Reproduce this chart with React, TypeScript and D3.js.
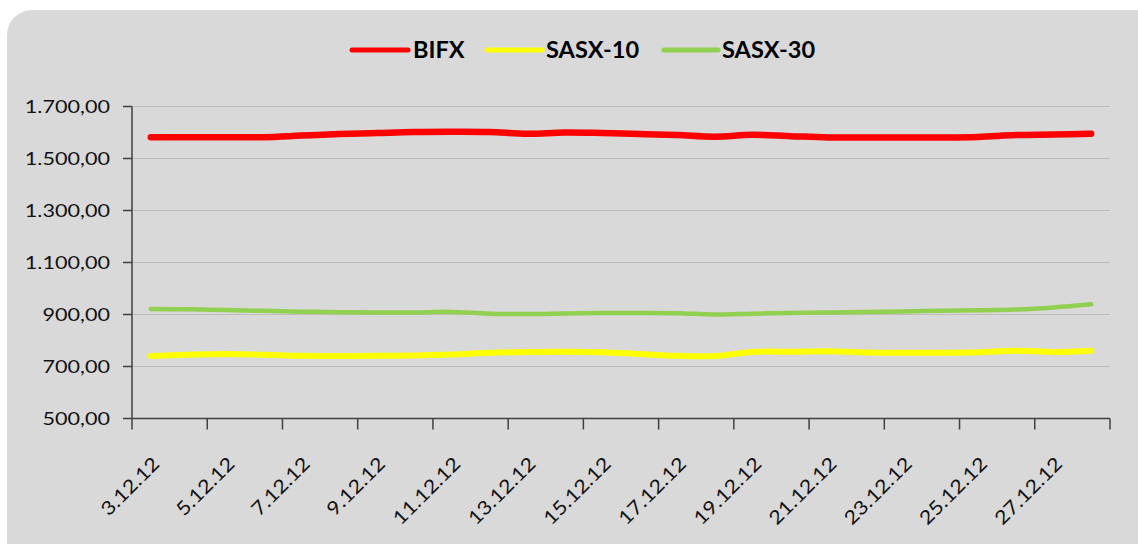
import React from 'react';
import * as d3 from 'd3';

const categories = [
  '3.12.12', '4.12.12', '5.12.12', '6.12.12', '7.12.12', '8.12.12', '9.12.12',
  '10.12.12', '11.12.12', '12.12.12', '13.12.12', '14.12.12', '15.12.12', '16.12.12',
  '17.12.12', '18.12.12', '19.12.12', '20.12.12', '21.12.12', '22.12.12', '23.12.12',
  '24.12.12', '25.12.12', '26.12.12', '27.12.12', '28.12.12',
];

const bifx = [
  1582, 1582, 1582, 1582, 1588, 1594, 1598, 1602, 1603, 1602, 1595, 1600, 1598,
  1594, 1590, 1584, 1591, 1586, 1581, 1581, 1581, 1581, 1583, 1590, 1592, 1595,
];

const sasx10 = [
  740, 745, 748, 745, 741, 740, 741, 742, 746, 753, 756, 757, 755,
  748, 741, 740, 756, 757, 759, 754, 753, 753, 755, 761, 756, 761,
];

const sasx30 = [
  921, 920, 917, 914, 911, 909, 908, 908, 910, 903, 902, 904, 906,
  906, 905, 900, 903, 906, 908, 910, 912, 914, 916, 919, 927, 939,
];

const yTicks = [500, 700, 900, 1100, 1300, 1500, 1700];

const seriesNames = ['BIFX', 'SASX-10', 'SASX-30'];
const seriesColors = ['#FF0000', '#FFFF00', '#92D050'];
const seriesWidths = [6.5, 6, 4.5];

const W = 1138;
const H = 544;
const plotLeft = 132;
const plotRight = 1110;
const plotTop = 106.5;
const plotBottom = 418.5;

const locale = d3.formatLocale({ decimal: ',', thousands: '.', grouping: [3], currency: ['', ''] });
const fmt = locale.format(',.2f');

const FONT = 'Lato, Carlito, Calibri, sans-serif';

export default function App() {
  const x = d3.scaleBand<string>().domain(categories).range([plotLeft, plotRight]).paddingInner(0).paddingOuter(0);
  const y = d3.scaleLinear().domain([500, 1700]).range([plotBottom, plotTop]);
  const bw = x.bandwidth();
  const cx = (c: string) => (x(c) as number) + bw / 2;

  const line = d3
    .line<number>()
    .x((_, i) => cx(categories[i]))
    .y((v) => y(v))
    .curve(d3.curveCatmullRom.alpha(0.5));

  const data = [bifx, sasx10, sasx30];

  const boundaries: number[] = [];
  for (let k = 0; k <= categories.length; k += 2) boundaries.push(plotLeft + k * bw);

  const labelCats = categories.filter((_, i) => i % 2 === 0);

  const legendItems = [
    { x1: 352, x2: 408, tx: 413 },
    { x1: 487, x2: 542, tx: 546 },
    { x1: 664, x2: 718, tx: 722 },
  ];

  return (
    <svg width={W} height={H} style={{ position: 'absolute', left: 0, top: 0 }}>
      <rect x={0} y={0} width={W} height={H} fill="#FFFFFF" />
      <rect x={7} y={10} width={W + 40} height={H + 40} rx={25} ry={25} fill="#D9D9D9" />

      {yTicks.filter((t) => t !== 500).map((t) => (
        <line key={'g' + t} x1={plotLeft} x2={plotRight} y1={y(t)} y2={y(t)} stroke="#BDBDBD" strokeWidth={1} />
      ))}

      <line x1={plotLeft} x2={plotLeft} y1={plotTop} y2={plotBottom} stroke="#404040" strokeWidth={1.5} />
      {yTicks.map((t) => (
        <g key={'yt' + t}>
          <line x1={plotLeft - 9} x2={plotLeft} y1={y(t)} y2={y(t)} stroke="#404040" strokeWidth={1.5} />
          <text
            transform={`translate(${110},${y(t) + 6.5}) scale(1.2,1)`}
            textAnchor="end"
            fontFamily={FONT}
            fontSize={18}
            fill="#111"
          >
            {fmt(t)}
          </text>
        </g>
      ))}

      <line x1={plotLeft} x2={plotRight} y1={plotBottom} y2={plotBottom} stroke="#404040" strokeWidth={1.5} />
      {boundaries.map((b, i) => (
        <line key={'xt' + i} x1={b} x2={b} y1={plotBottom} y2={plotBottom + 11} stroke="#404040" strokeWidth={1.5} />
      ))}
      {labelCats.map((c) => (
        <text
          key={'xl' + c}
          transform={`translate(${cx(c) + 10},${465}) rotate(-45) scale(1.15,1)`}
          textAnchor="end"
          fontFamily={FONT}
          fontSize={19}
          fill="#111"
        >
          {c}
        </text>
      ))}

      {data.map((d, si) => (
        <path
          key={'s' + si}
          d={line(d) as string}
          fill="none"
          stroke={seriesColors[si]}
          strokeWidth={seriesWidths[si]}
          strokeLinecap="round"
          strokeLinejoin="round"
        />
      ))}

      {legendItems.map((it, i) => (
        <g key={'lg' + i}>
          <line x1={it.x1} x2={it.x2} y1={50} y2={50} stroke={seriesColors[i]} strokeWidth={5} strokeLinecap="round" />
          <text
            transform={`translate(${it.tx},${57.5}) scale(1.07,1)`}
            fontFamily={FONT}
            fontWeight="bold"
            fontSize={22}
            fill="#000"
          >
            {seriesNames[i]}
          </text>
        </g>
      ))}
    </svg>
  );
}
